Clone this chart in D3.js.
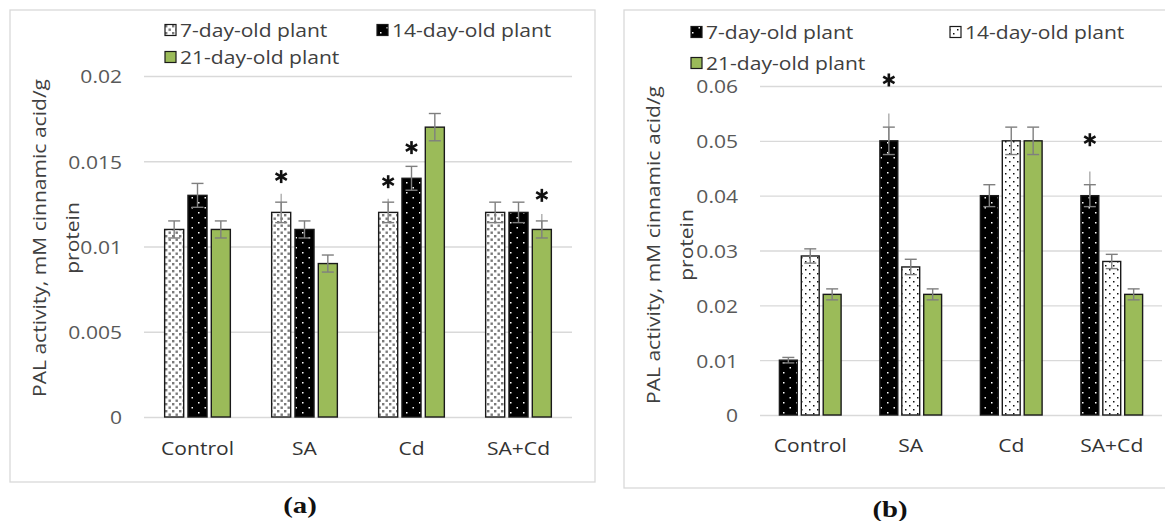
<!DOCTYPE html>
<html>
<head>
<meta charset="utf-8">
<script src="https://cdn.jsdelivr.net/npm/d3@7"></script>
<style>
  body { margin: 0; background: #fff; }
  svg { display: block; }
</style>
</head>
<body>
<svg id="chart" width="1165" height="521"></svg>
<script>
const categories = ["Control", "SA", "Cd", "SA+Cd"];
const seriesNames = ["7-day-old plant", "14-day-old plant", "21-day-old plant"];

// panel (a)
const aValues7 = [0.011, 0.012, 0.012, 0.012];
const aValues14 = [0.013, 0.011, 0.014, 0.012];
const aValues21 = [0.011, 0.009, 0.017, 0.011];
const aErr7 = [0.0005, 0.0006, 0.0006, 0.0006];
const aErr14 = [0.0007, 0.0005, 0.0007, 0.0006];
const aErr21 = [0.0005, 0.0005, 0.0008, 0.0005];
const aTicks = [0, 0.005, 0.01, 0.015, 0.02];
const aTickLabels = ["0", "0.005", "0.01", "0.015", "0.02"];
const aStars = [["SA", 0, 0.0141], ["Cd", 0, 0.0138], ["Cd", 1, 0.0158], ["SA+Cd", 2, 0.0130]];
const aLongWhiskers = [["SA", 0, 0.0131], ["Cd", 0, 0.0128], ["SA+Cd", 2, 0.0119]];

// panel (b)
const bValues7 = [0.010, 0.050, 0.040, 0.040];
const bValues14 = [0.029, 0.027, 0.050, 0.028];
const bValues21 = [0.022, 0.022, 0.050, 0.022];
const bErr7 = [0.0005, 0.0025, 0.002, 0.002];
const bErr14 = [0.0013, 0.0014, 0.0025, 0.0013];
const bErr21 = [0.001, 0.001, 0.0025, 0.001];
const bTicks = [0, 0.01, 0.02, 0.03, 0.04, 0.05, 0.06];
const bTickLabels = ["0", "0.01", "0.02", "0.03", "0.04", "0.05", "0.06"];
const bStars = [["SA", 0, 0.0611], ["SA+Cd", 0, 0.0502]];
const bLongWhiskers = [["SA", 0, 0.055], ["SA+Cd", 0, 0.0444]];

const FONT = "'Open Sans', sans-serif";
const FONT_SIZE = 18;
const STRETCH = 1.17;
const GREEN = "#9bbb59";

const svg = d3.select("#chart");
const defs = svg.append("defs");

// fill patterns
function dotPattern(id, bg, fg, w, h, dots, size) {
  const p = defs.append("pattern")
    .attr("id", id)
    .attr("patternUnits", "userSpaceOnUse")
    .attr("width", w).attr("height", h);
  p.append("rect").attr("width", w).attr("height", h).attr("fill", bg);
  dots.forEach(([dx, dy]) => {
    p.append("rect").attr("x", dx).attr("y", dy)
      .attr("width", size).attr("height", size).attr("fill", fg);
  });
}
dotPattern("greyDots", "#fff", "#7a7a7a", 7, 7, [[0.5, 0.5], [4, 4]], 2.4);
dotPattern("blackDots", "#000", "#fff", 13, 10, [[3, 2], [9.5, 7]], 1.5);
dotPattern("sparseDots", "#fff", "#111", 8, 8, [[1, 1], [5, 5]], 1.5);

function stretchedText(g, x, y, str, rotate) {
  return g.append("text")
    .attr("transform", `translate(${x},${y})${rotate ? " rotate(-90)" : ""} scale(${STRETCH},1)`)
    .attr("font-family", FONT)
    .attr("font-size", FONT_SIZE)
    .text(str);
}

function drawPanel(cfg) {
  const g = svg.append("g");

  g.append("rect")
    .attr("x", cfg.frame[0]).attr("y", cfg.frame[1])
    .attr("width", cfg.frame[2]).attr("height", cfg.frame[3])
    .attr("fill", "none").attr("stroke", "#d9d9d9").attr("stroke-width", 1.3);

  const x = d3.scaleBand().domain(categories).range([cfg.left, cfg.right]);
  const y = d3.scaleLinear().domain([0, cfg.ticks[cfg.ticks.length - 1]]).range([cfg.bottom, cfg.top]);

  const barW = x.bandwidth() * 0.178;
  const gap = x.bandwidth() * 0.04;
  const groupW = 3 * barW + 2 * gap;
  const barX = (cat, s) => x(cat) + (x.bandwidth() - groupW) / 2 + s * (barW + gap);

  // y axis with gridlines
  const yAxis = g.append("g")
    .attr("transform", `translate(${cfg.left},0)`)
    .call(d3.axisLeft(y)
      .tickValues(cfg.ticks)
      .tickSize(-(cfg.right - cfg.left))
      .tickFormat((d, i) => cfg.tickLabels[i]));
  yAxis.select(".domain").remove();
  yAxis.selectAll("line").attr("stroke", "#d9d9d9").attr("stroke-width", 1.3);
  yAxis.selectAll("text")
    .attr("x", null).attr("dy", null)
    .attr("transform", `translate(-22,0) scale(${STRETCH},1)`)
    .attr("dominant-baseline", "central")
    .attr("font-family", FONT)
    .attr("font-size", FONT_SIZE)
    .attr("fill", "#595959");

  // category axis
  const xAxis = g.append("g")
    .attr("transform", `translate(0,${cfg.bottom})`)
    .call(d3.axisBottom(x).tickSize(0));
  xAxis.select(".domain").remove();
  xAxis.selectAll("text")
    .attr("y", null).attr("dy", null)
    .attr("transform", `translate(0,${cfg.catOffset}) scale(${STRETCH},1)`)
    .attr("dominant-baseline", "central")
    .attr("font-family", FONT)
    .attr("font-size", FONT_SIZE)
    .attr("fill", "#333");

  // bars
  cfg.series.forEach((ser, s) => {
    g.selectAll(null)
      .data(categories)
      .join("rect")
      .attr("x", d => barX(d, s))
      .attr("y", (d, i) => y(ser.values[i]))
      .attr("width", barW)
      .attr("height", (d, i) => y(0) - y(ser.values[i]))
      .attr("fill", ser.fill)
      .attr("stroke", "#1a1a1a")
      .attr("stroke-width", 1.4);
  });

  // long whiskers above some bars
  g.selectAll(null)
    .data(cfg.longWhiskers)
    .join("line")
    .attr("x1", d => barX(d[0], d[1]) + barW / 2)
    .attr("x2", d => barX(d[0], d[1]) + barW / 2)
    .attr("y1", d => y(cfg.series[d[1]].values[categories.indexOf(d[0])]))
    .attr("y2", d => y(d[2]))
    .attr("stroke", "#a6a6a6")
    .attr("stroke-width", 1.3);

  // error bars
  const capW = 6;
  cfg.series.forEach((ser, s) => {
    categories.forEach((cat, i) => {
      const cx = barX(cat, s) + barW / 2;
      const lo = y(ser.values[i] - ser.err[i]);
      const hi = y(ser.values[i] + ser.err[i]);
      const eg = g.append("g").attr("stroke", "#7f7f7f").attr("stroke-width", 1.4);
      eg.append("line").attr("x1", cx).attr("x2", cx).attr("y1", lo).attr("y2", hi);
      eg.append("line").attr("x1", cx - capW).attr("x2", cx + capW).attr("y1", lo).attr("y2", lo);
      eg.append("line").attr("x1", cx - capW).attr("x2", cx + capW).attr("y1", hi).attr("y2", hi);
    });
  });

  // significance asterisks (six arms)
  cfg.stars.forEach(([cat, s, v]) => {
    const cx = barX(cat, s) + barW / 2;
    const cy = y(v);
    const star = g.append("g")
      .attr("transform", `translate(${cx},${cy})`)
      .attr("stroke", "#111").attr("stroke-width", 2.6).attr("stroke-linecap", "butt");
    [90, 30, -30].forEach(a => {
      const r = 6.5, t = a * Math.PI / 180;
      star.append("line")
        .attr("x1", -r * Math.cos(t)).attr("y1", -r * Math.sin(t))
        .attr("x2", r * Math.cos(t)).attr("y2", r * Math.sin(t));
    });
  });

  // legend
  cfg.legend.forEach(([s, lx, ly]) => {
    g.append("rect")
      .attr("x", lx).attr("y", ly - 5.5)
      .attr("width", 11).attr("height", 11)
      .attr("fill", cfg.series[s].fill)
      .attr("stroke", "#1a1a1a").attr("stroke-width", 1.2);
    stretchedText(g, lx + 15, ly, seriesNames[s])
      .attr("dominant-baseline", "central")
      .attr("fill", "#404040");
  });

  // y title, two lines
  const midY = cfg.titleY;
  stretchedText(g, cfg.titleX[0], midY, "PAL activity, mM cinnamic acid/g", true)
    .attr("text-anchor", "middle").attr("dominant-baseline", "central").attr("fill", "#404040");
  stretchedText(g, cfg.titleX[1], midY, "protein", true)
    .attr("text-anchor", "middle").attr("dominant-baseline", "central").attr("fill", "#404040");

  // caption
  g.append("text")
    .attr("transform", `translate(${cfg.caption[0]},${cfg.caption[1]}) scale(1.2,1)`)
    .attr("text-anchor", "middle")
    .attr("font-family", "'Liberation Serif', 'Times New Roman', serif")
    .attr("font-weight", "bold")
    .attr("font-size", 24)
    .attr("fill", "#111")
    .text(cfg.label);
}

drawPanel({
  frame: [10, 10, 585, 472],
  left: 144, right: 572, top: 76, bottom: 417,
  ticks: aTicks, tickLabels: aTickLabels,
  catOffset: 31,
  series: [
    { values: aValues7, err: aErr7, fill: "url(#greyDots)" },
    { values: aValues14, err: aErr14, fill: "url(#blackDots)" },
    { values: aValues21, err: aErr21, fill: GREEN }
  ],
  stars: aStars,
  longWhiskers: aLongWhiskers,
  legend: [[0, 165, 30], [1, 377, 30], [2, 165, 57]],
  titleX: [39, 72],
  titleY: 238,
  caption: [300, 513],
  label: "(a)"
});

drawPanel({
  frame: [624, 10, 560, 478],
  left: 760, right: 1162, top: 86, bottom: 415,
  ticks: bTicks, tickLabels: bTickLabels,
  catOffset: 30,
  series: [
    { values: bValues7, err: bErr7, fill: "url(#blackDots)" },
    { values: bValues14, err: bErr14, fill: "url(#sparseDots)" },
    { values: bValues21, err: bErr21, fill: GREEN }
  ],
  stars: bStars,
  longWhiskers: bLongWhiskers,
  legend: [[0, 691, 32], [1, 950, 32], [2, 691, 63]],
  titleX: [653, 686],
  titleY: 245,
  caption: [890, 517],
  label: "(b)"
});
</script>
</body>
</html>
